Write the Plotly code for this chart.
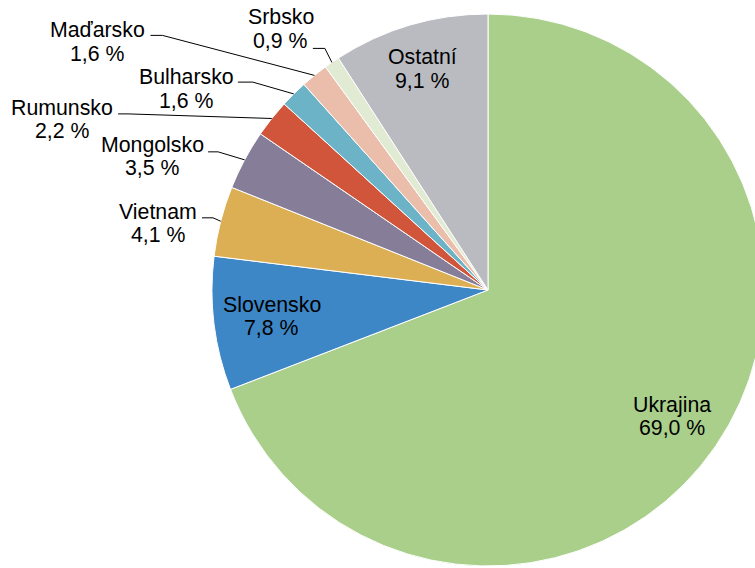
import math
import plotly.graph_objects as go

# ---------------- data ----------------
categories = ["Ukrajina", "Slovensko", "Vietnam", "Mongolsko", "Rumunsko",
              "Bulharsko", "Maďarsko", "Srbsko", "Ostatní"]
shares = [69.0, 7.8, 4.1, 3.5, 2.2, 1.6, 1.6, 0.9, 9.1]
value_labels = ["69,0 %", "7,8 %", "4,1 %", "3,5 %", "2,2 %",
                "1,6 %", "1,6 %", "0,9 %", "9,1 %"]

# ---------------- style / layout ----------------
colors = ["#A9CF8B", "#3D87C7", "#DCAF55", "#867E98", "#D1553A",
          "#6DB3C8", "#EBBDAB", "#E1EAD2", "#B9BBC0"]
W, H = 770, 568
CX, CY, R = 488, 290, 276          # pie centre / radius in window pixels
FONT = "Liberation Sans, Arial, sans-serif"
FS = 21.3
LINE_GAP = 23.5

# inside labels: radial fraction of R along slice mid-angle
inside = {"Ukrajina": 0.81, "Slovensko": 0.79, "Ostatní": 0.835}
# outside labels: offsets (px) from slice edge point:
# text centre of first line, elbow point, length of horizontal segment
outside = {
    "Vietnam":   dict(text=(-62.7, -9.4),  elbow=(-7.7, -3.4),   seg=11),
    "Mongolsko": dict(text=(-92.0, -15.0), elbow=(-26.5, -8.0),  seg=10),
    "Rumunsko":  dict(text=(-209.7, -10.6), elbow=(-143.7, -4.6), seg=10),
    "Bulharsko": dict(text=(-106.9, -16.8), elbow=(-40.9, -11.8), seg=15),
    "Maďarsko":  dict(text=(-216.5, -45.0), elbow=(-152.0, -40.0), seg=12),
    "Srbsko":    dict(text=(-51.0, -45.0),  elbow=(-7.0, -14.0),  seg=12),
}


def px(x):
    return x / W


def py(y):
    return 1 - y / H


fig = go.Figure(go.Pie(
    labels=categories,
    values=shares,
    sort=False,
    direction="clockwise",
    rotation=0,
    marker=dict(colors=colors, line=dict(color="white", width=1)),
    textinfo="none",
    hoverinfo="label+percent",
    showlegend=False,
    domain=dict(x=[px(CX - R), px(CX + R)], y=[py(CY + R), py(CY - R)]),
))

total = sum(shares)
annotations = []
shapes = []
cum = 0.0
for cat, val, vlab in zip(categories, shares, value_labels):
    mid = (cum + val / 2) / total * 2 * math.pi
    cum += val
    sx, sy = math.sin(mid), -math.cos(mid)
    if cat in inside:
        f = inside[cat]
        tx, ty = CX + f * R * sx, CY + f * R * sy - LINE_GAP / 2
    else:
        ex, ey = CX + R * sx, CY + R * sy
        o = outside[cat]
        tx, ty = ex + o["text"][0], ey + o["text"][1]
        bx, by = ex + o["elbow"][0], ey + o["elbow"][1]
        shapes.append(dict(
            type="path", xref="paper", yref="paper",
            path=f"M {px(bx - o['seg'])},{py(by)} L {px(bx)},{py(by)} L {px(ex)},{py(ey)}",
            line=dict(color="black", width=1),
        ))
    for i, t in enumerate([cat, vlab]):
        annotations.append(dict(
            text=t, x=px(tx), y=py(ty + i * LINE_GAP), xref="paper", yref="paper",
            xanchor="center", yanchor="middle", showarrow=False,
            font=dict(family=FONT, size=FS, color="#000000"),
        ))

fig.update_layout(
    width=W, height=H,
    margin=dict(l=0, r=0, t=0, b=0),
    paper_bgcolor="white", plot_bgcolor="white",
    annotations=annotations, shapes=shapes,
)

# the pie is cropped by the right edge of the window, as in the reference
page_css = ("document.body.style.margin='0';"
            "document.body.style.overflow='hidden';"
            "document.documentElement.style.overflow='hidden';")
fig.write_html("out.html", post_script=page_css,
               config={"displayModeBar": False})
